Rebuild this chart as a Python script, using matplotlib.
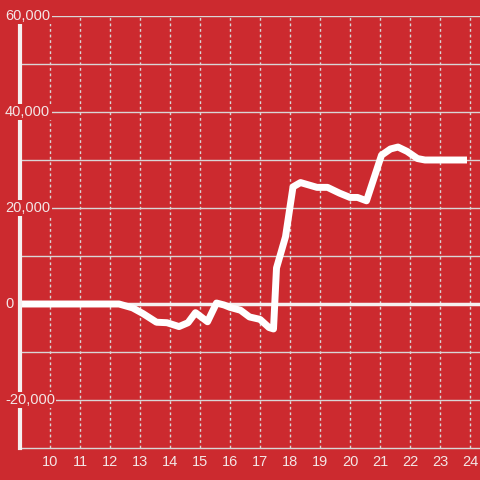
import matplotlib.pyplot as plt

# hour of day vs cumulative value
hours = [9.0, 12.3, 12.75, 13.1, 13.55, 13.9, 14.3, 14.6, 14.85, 15.25, 15.55, 15.8,
         16.0, 16.35, 16.65, 17.0, 17.3, 17.45, 17.55, 17.85, 18.1, 18.35, 18.9, 19.25,
         19.65, 20.0, 20.25, 20.55, 21.05, 21.35, 21.6, 21.9, 22.25, 22.5, 23.9]
values = [0, 0, -800, -2000, -3800, -3900, -4700, -3900, -1800, -3700, 200, -200,
          -700, -1300, -2700, -3200, -4900, -5200, 7500, 14000, 24400, 25300, 24300, 24300,
          23100, 22200, 22200, 21500, 31000, 32300, 32700, 31800, 30300, 30000, 30000]

xticks = list(range(10, 25))
ylabels = [60000, 40000, 20000, 0, -20000]

bg = '#cc2a2f'
grid = '#d9d6d6'
txt = '#f3e6e6'

plt.rcParams['font.family'] = ['Liberation Sans', 'DejaVu Sans']

fig = plt.figure(figsize=(4.8, 4.8), dpi=100, facecolor=bg)
ax = fig.add_axes([20 / 480, 32 / 480, 460 / 480, 432 / 480], facecolor=bg)

ax.set_xlim(9, 24.333)
ax.set_ylim(-30000, 60000)

for y in range(-20000, 60001, 10000):
    if y != 0:
        ax.axhline(y, color=grid, lw=1, zorder=1)
for x in xticks:
    ax.axvline(x, color=grid, lw=1, ls=(0, (2, 2)), zorder=1)
ax.axhline(0, color='#f5f0f0', lw=2.5, zorder=2)

ax.plot(hours, values, color='white', lw=5, solid_capstyle='butt',
        solid_joinstyle='round', zorder=3)

for s in ['top', 'right']:
    ax.spines[s].set_visible(False)
ax.spines['left'].set_color('#f5f0f0')
ax.spines['left'].set_linewidth(3)
ax.spines['left'].set_zorder(4)
ax.spines['bottom'].set_color(grid)
ax.spines['bottom'].set_linewidth(1)

ax.set_xticks(xticks)
ax.set_xticklabels([str(x) for x in xticks], color=txt, fontsize=10.5)
ax.tick_params(axis='x', length=0, pad=5)
ax.set_yticks([])

for v in ylabels:
    ax.text(-15 / 460, v, f'{v:,}', transform=ax.get_yaxis_transform(),
            ha='left', va='center', color=txt, fontsize=10.5, zorder=5,
            bbox=dict(facecolor=bg, edgecolor='none', pad=1))

fig.savefig('out.png', dpi=100, facecolor=bg)
